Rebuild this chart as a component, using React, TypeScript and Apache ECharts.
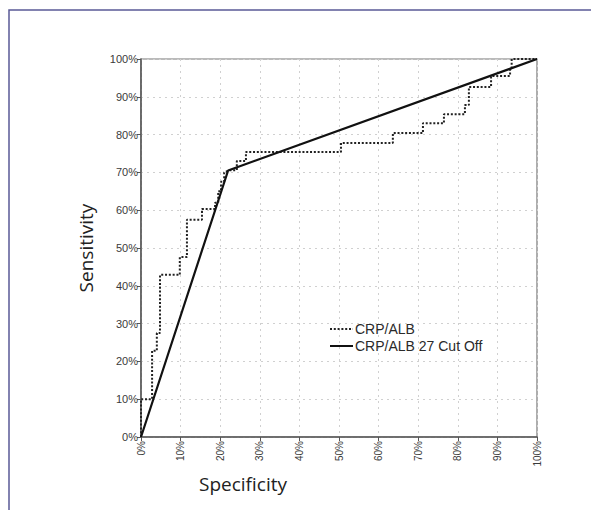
import React, { useEffect, useRef } from "react";
import * as echarts from "echarts";

// CRP/ALB ROC curve (x = 1 - specificity %, y = sensitivity %)
const crpAlbX = [0, 0, 2.8, 2.8, 4, 4, 4.8, 4.8, 9.8, 9.8, 11.6, 11.6, 15.4, 15.4, 18.7, 18.7, 19.5, 19.5, 20.2, 20.2, 21, 21, 22.5, 24.2, 24.2, 26.5, 26.5, 50.5, 50.5, 63.6, 63.6, 71.2, 71.2, 76.5, 76.5, 81.8, 81.8, 82.8, 82.8, 88.4, 88.4, 93.2, 93.2, 93.6, 93.6, 100];
const crpAlbY = [0, 10, 10, 22.8, 22.8, 27.5, 27.5, 42.9, 42.9, 47.6, 47.6, 57.5, 57.5, 60.3, 60.3, 62, 62, 65, 65, 67.5, 67.5, 70, 70.6, 70.6, 73, 73, 75.4, 75.4, 77.8, 77.8, 80.4, 80.4, 83, 83, 85.4, 85.4, 87.8, 87.8, 92.6, 92.6, 95.5, 95.5, 97.5, 97.5, 100, 100];

// CRP/ALB 27 cut off
const cutOffX = [0, 22, 100];
const cutOffY = [0, 70.5, 100];

const tickValues = [0, 10, 20, 30, 40, 50, 60, 70, 80, 90, 100];

const seriesNames = ["CRP/ALB", "CRP/ALB 27 Cut Off"];

export default function App() {
  const ref = useRef<HTMLDivElement>(null);
  useEffect(() => {
    if (!ref.current) return;
    const chart = echarts.init(ref.current, null, { renderer: "svg" });
    const pair = (xs: number[], ys: number[]) => xs.map((x, i) => [x, ys[i]]);
    chart.setOption({
      animation: false,
      backgroundColor: "#ffffff",
      textStyle: { fontFamily: "Liberation Sans, Arial, sans-serif" },
      grid: {
        left: 141,
        right: 54,
        top: 59,
        bottom: 73,
        show: true,
        borderColor: "#777",
        borderWidth: 1.2,
      },
      legend: {
        orient: "vertical",
        left: 329,
        top: 322,
        padding: 0,
        itemWidth: 23,
        itemHeight: 10,
        itemGap: 3,
        itemStyle: { opacity: 0 },
        data: seriesNames,
        textStyle: { fontSize: 14, color: "#2a2a2a", fontFamily: "Liberation Sans, Arial, sans-serif", padding: [0, 0, 0, -3] },
      },
      xAxis: {
        type: "value",
        min: 0,
        max: 100,
        interval: 10,
        axisLine: { show: true, lineStyle: { color: "#555", width: 1.5 } },
        axisTick: { show: true, length: 4, lineStyle: { color: "#555" } },
        axisLabel: {
          rotate: 90,
          margin: 4,
          fontSize: 10,
          color: "#3a3a3a",
          formatter: (v: number) => (tickValues.includes(v) ? v + "%" : ""),
        },
        splitLine: { show: true, lineStyle: { color: "#d0d0d0", type: [2, 4], width: 1 } },
      },
      yAxis: {
        type: "value",
        min: 0,
        max: 100,
        interval: 10,
        name: "Sensitivity",
        nameLocation: "middle",
        nameGap: 46,
        nameTextStyle: { fontSize: 19, color: "#222", fontFamily: "Open Sans, sans-serif" },
        axisLine: { show: true, lineStyle: { color: "#555", width: 1.5 } },
        axisTick: { show: true, length: 4, lineStyle: { color: "#555" } },
        axisLabel: {
          margin: 3,
          fontSize: 11,
          color: "#3a3a3a",
          formatter: (v: number) => v + "%",
        },
        splitLine: { show: true, lineStyle: { color: "#d0d0d0", type: [2, 4], width: 1 } },
      },
      graphic: [
        {
          type: "polyline",
          shape: { points: [[9, 520], [9, 10], [600, 10]] },
          style: { stroke: "#5a5a96", lineWidth: 1.5, fill: "none" },
          silent: true,
        },
        {
          type: "text",
          left: 199,
          top: 474,
          style: { text: "Specificity", fontSize: 19, fill: "#222", fontFamily: "Open Sans, sans-serif" },
        },
      ],
      series: [
        {
          name: seriesNames[0],
          type: "line",
          data: pair(crpAlbX, crpAlbY),
          symbol: "none",
          lineStyle: { color: "#222", width: 2, type: [2, 1.8] },
          itemStyle: { color: "#222" },
          z: 3,
        },
        {
          name: seriesNames[1],
          type: "line",
          data: pair(cutOffX, cutOffY),
          symbol: "none",
          lineStyle: { color: "#111", width: 2.2, type: "solid" },
          itemStyle: { color: "#111" },
          z: 4,
        },
      ],
    });
    return () => chart.dispose();
  }, []);
  return (
    <div
      ref={ref}
      style={{ position: "fixed", left: 0, top: 0, width: 591, height: 510 }}
    />
  );
}
